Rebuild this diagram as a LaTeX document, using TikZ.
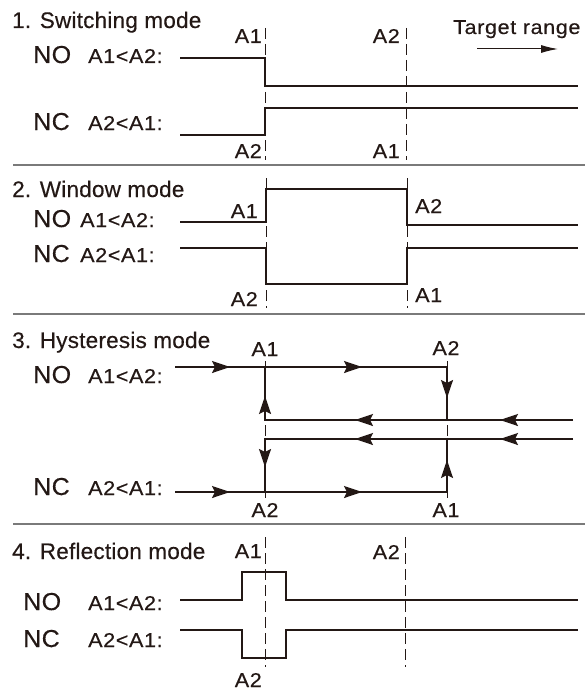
\documentclass[tikz,border=0pt]{standalone}
\usepackage{fontspec}
\setmainfont{Liberation Sans}
\newfontfamily\ttlfont[LetterSpace=1,FakeBold=0.4]{Liberation Sans}
\newfontfamily\bigfont[FakeStretch=1.02,LetterSpace=2,FakeBold=0.4]{Liberation Sans}
\newfontfamily\lblfont[FakeStretch=1.08,LetterSpace=3,FakeBold=0.4]{Liberation Sans}
\usetikzlibrary{arrows.meta,decorations.markings}
\definecolor{ink}{HTML}{231815}
\definecolor{sepgray}{HTML}{7A7A7A}
\tikzset{
  hyhead/.tip={Stealth[length=18pt,width=12pt,inset=3pt]},
  ttl/.style={inner sep=0pt, anchor=base west, font=\ttlfont\fontsize{22.5}{25}\selectfont, text=ink},
  nonc/.style={inner sep=0pt, anchor=base west, font=\bigfont\fontsize{24.5}{27}\selectfont, text=ink},
  lbl/.style={inner sep=0pt, font=\lblfont\fontsize{20}{23}\selectfont, text=ink},
  sig/.style={line width=2pt, draw=ink, line join=miter},
  guide/.style={line width=0.9pt, draw=ink, dash pattern=on 11pt off 5pt},
  sepline/.style={line width=1.5pt, draw=sepgray},
  hyarr/.style={postaction={decorate,decoration={markings,mark=at position #1 with {\arrow[ink]{hyhead}}}}}
}
\begin{document}
\begin{tikzpicture}[x=1pt,y=-1pt]
\useasboundingbox (0,0) rectangle (585,690);

% ---------- 1. Switching mode ----------
\node[ttl] (t1) at (12,28) {1. Switching mode};
\node[lbl,anchor=base west] (tr) at (453,34) {Target range};
\coordinate (tra) at (477,49);
\coordinate (trb) at (558,49);
\draw[line width=1pt, draw=ink, -{Latex[length=17pt,width=8pt]}] (tra) -- (trb);

\node[nonc] (no1) at (33,63) {NO};
\node[lbl,anchor=base west] (c1a) at (88,63) {A1<A2:};
\node[nonc] (nc1) at (33,130) {NC};
\node[lbl,anchor=base west] (c1b) at (88,130) {A2<A1:};
\node[lbl,anchor=base east] (l1a) at (262,43) {A1};
\node[lbl,anchor=base east] (l1b) at (400,43) {A2};
\node[lbl,anchor=base east] (l1c) at (262,158) {A2};
\node[lbl,anchor=base east] (l1d) at (400,158) {A1};

\coordinate (g1at) at (265,28); \coordinate (g1ab) at (265,160);
\coordinate (g1bt) at (406,28); \coordinate (g1bb) at (406,160);
\draw[guide] (g1at) -- (g1ab);
\draw[guide] (g1bt) -- (g1bb);

\coordinate (s1a) at (180,58); \coordinate (s1b) at (265,58);
\coordinate (s1c) at (265,86); \coordinate (s1d) at (578,86);
\draw[sig] (s1a) -- (s1b) -- (s1c) -- (s1d);
\coordinate (s1e) at (180,135); \coordinate (s1f) at (265,135);
\coordinate (s1g) at (265,108); \coordinate (s1h) at (578,108);
\draw[sig] (s1e) -- (s1f) -- (s1g) -- (s1h);

\coordinate (sep1a) at (13,165); \coordinate (sep1b) at (585,165);
\draw[sepline] (sep1a) -- (sep1b);

% ---------- 2. Window mode ----------
\node[ttl] (t2) at (12,197) {2. Window mode};
\node[nonc] (no2) at (33,227) {NO};
\node[lbl,anchor=base west] (c2a) at (80,227) {A1<A2:};
\node[nonc] (nc2) at (33,262) {NC};
\node[lbl,anchor=base west] (c2b) at (80,262) {A2<A1:};
\node[lbl,anchor=base east] (l2a) at (258,218) {A1};
\node[lbl,anchor=base east] (l2b) at (258,306) {A2};
\node[lbl,anchor=base west] (l2c) at (415,213) {A2};
\node[lbl,anchor=base west] (l2d) at (415,302) {A1};

\coordinate (g2at) at (266,178); \coordinate (g2ab) at (266,308);
\coordinate (g2bt) at (407,178); \coordinate (g2bb) at (407,308);
\draw[guide] (g2at) -- (g2ab);
\draw[guide] (g2bt) -- (g2bb);

\coordinate (s2a) at (180,222); \coordinate (s2b) at (266,222);
\coordinate (s2c) at (266,189); \coordinate (s2d) at (407,189);
\coordinate (s2e) at (407,225); \coordinate (s2f) at (578,225);
\draw[sig] (s2a) -- (s2b) -- (s2c) -- (s2d) -- (s2e) -- (s2f);
\coordinate (s2g) at (180,248); \coordinate (s2h) at (266,248);
\coordinate (s2i) at (266,284); \coordinate (s2j) at (407,284);
\coordinate (s2k) at (407,248); \coordinate (s2l) at (578,248);
\draw[sig] (s2g) -- (s2h) -- (s2i) -- (s2j) -- (s2k) -- (s2l);

\coordinate (sep2a) at (13,314); \coordinate (sep2b) at (585,314);
\draw[sepline] (sep2a) -- (sep2b);

% ---------- 3. Hysteresis mode ----------
\node[ttl] (t3) at (12,348) {3. Hysteresis mode};
\node[nonc] (no3) at (33,383) {NO};
\node[lbl,anchor=base west] (c3a) at (88,383) {A1<A2:};
\node[nonc] (nc3) at (33,495) {NC};
\node[lbl,anchor=base west] (c3b) at (88,495) {A2<A1:};
\node[lbl,anchor=base] (l3a) at (265,356) {A1};
\node[lbl,anchor=base] (l3b) at (446,355) {A2};
\node[lbl,anchor=base] (l3c) at (265,517) {A2};
\node[lbl,anchor=base] (l3d) at (446,517) {A1};

\coordinate (g3at) at (265,361); \coordinate (g3ab) at (265,498);
\coordinate (g3bt) at (447,361); \coordinate (g3bb) at (447,498);
\draw[guide] (g3at) -- (g3ab);
\draw[guide] (g3bt) -- (g3bb);

\coordinate (h1a) at (175,367); \coordinate (h1b) at (447,367); \coordinate (h1c) at (447,420);
\draw[sig,hyarr=55pt,hyarr=187pt,hyarr=303pt] (h1a) -- (h1b) -- (h1c);
\coordinate (h2a) at (573,420); \coordinate (h2b) at (265,420); \coordinate (h2c) at (265,367);
\draw[sig,hyarr=73pt,hyarr=218pt,hyarr=332pt] (h2a) -- (h2b) -- (h2c);
\coordinate (h3a) at (573,439); \coordinate (h3b) at (265,439); \coordinate (h3c) at (265,492);
\draw[sig,hyarr=73pt,hyarr=218pt,hyarr=336pt] (h3a) -- (h3b) -- (h3c);
\coordinate (h4a) at (175,492); \coordinate (h4b) at (447,492); \coordinate (h4c) at (447,439);
\draw[sig,hyarr=55pt,hyarr=187pt,hyarr=304pt] (h4a) -- (h4b) -- (h4c);

\coordinate (sep3a) at (13,524); \coordinate (sep3b) at (585,524);
\draw[sepline] (sep3a) -- (sep3b);

% ---------- 4. Reflection mode ----------
\node[ttl] (t4) at (12,559) {4. Reflection mode};
\node[nonc] (no4) at (23,610) {NO};
\node[lbl,anchor=base west] (c4a) at (88,610) {A1<A2:};
\node[nonc] (nc4) at (23,647) {NC};
\node[lbl,anchor=base west] (c4b) at (88,647) {A2<A1:};
\node[lbl,anchor=base east] (l4a) at (262,558) {A1};
\node[lbl,anchor=base east] (l4b) at (400,559) {A2};
\node[lbl,anchor=base east] (l4c) at (262,687) {A2};

\coordinate (g4at) at (265,537); \coordinate (g4ab) at (265,667);
\coordinate (g4bt) at (405,537); \coordinate (g4bb) at (405,667);
\draw[guide] (g4at) -- (g4ab);
\draw[guide] (g4bt) -- (g4bb);

\coordinate (s4a) at (180,600); \coordinate (s4b) at (242,600);
\coordinate (s4c) at (242,572); \coordinate (s4d) at (286,572);
\coordinate (s4e) at (286,600); \coordinate (s4f) at (578,600);
\draw[sig] (s4a) -- (s4b) -- (s4c) -- (s4d) -- (s4e) -- (s4f);
\coordinate (s4g) at (180,630); \coordinate (s4h) at (242,630);
\coordinate (s4i) at (242,658); \coordinate (s4j) at (286,658);
\coordinate (s4k) at (286,630); \coordinate (s4l) at (578,630);
\draw[sig] (s4g) -- (s4h) -- (s4i) -- (s4j) -- (s4k) -- (s4l);
\end{tikzpicture}
\end{document}
